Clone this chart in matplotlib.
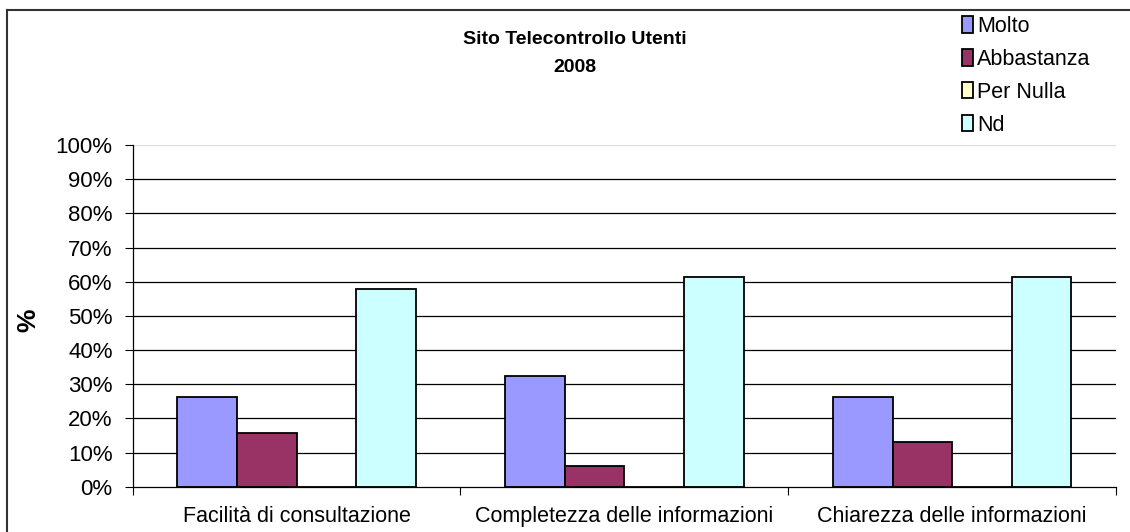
import matplotlib
matplotlib.use("Agg")
import matplotlib.pyplot as plt
import numpy as np
from matplotlib.patches import Patch
from matplotlib.lines import Line2D

plt.rcParams['font.family'] = ['Liberation Sans', 'DejaVu Sans']

categories = ["Facilità di consultazione", "Completezza delle informazioni", "Chiarezza delle informazioni"]
series_names = ["Molto", "Abbastanza", "Per Nulla", "Nd"]
molto = [26.3, 32.3, 26.3]
abbastanza = [15.8, 6.1, 13.0]
per_nulla = [0.0, 0.0, 0.0]
nd = [57.9, 61.4, 61.4]
y_ticks = [0, 10, 20, 30, 40, 50, 60, 70, 80, 90, 100]
y_tick_labels = ["0%", "10%", "20%", "30%", "40%", "50%", "60%", "70%", "80%", "90%", "100%"]
title_lines = ["Sito Telecontrollo Utenti", "2008"]

colors = ["#9999FF", "#993366", "#FFFFCC", "#CCFFFF"]
values = [molto, abbastanza, per_nulla, nd]

W, H = 1130, 532
fig = plt.figure(figsize=(W / 100, H / 100), dpi=100)
fig.patch.set_facecolor("white")

# outer chart frame (left and top visible)
fig.add_artist(Line2D([7 / W, 7 / W], [0, 1 - 10 / H], transform=fig.transFigure, color="#333333", lw=1.5))
fig.add_artist(Line2D([7 / W, 1], [1 - 10 / H, 1 - 10 / H], transform=fig.transFigure, color="#333333", lw=1.5))

left, right = 132.7, 1116
top, bottom = 145, 486.7
ax = fig.add_axes([left / W, 1 - bottom / H, (right - left) / W, (bottom - top) / H])

x = np.arange(len(categories))
bw = 1 / 5.5
offsets = [-1.5, -0.5, 0.5, 1.5]
for vals, off, col, name in zip(values, offsets, colors, series_names):
    ax.bar(x + off * bw, vals, width=bw, color=col, edgecolor="black", linewidth=1.3, label=name, zorder=3)

ax.set_xlim(-0.5, len(categories) - 0.5)
ax.set_ylim(0, 100)

# gridlines
for t in y_ticks[1:]:
    ax.axhline(t, color="black" if t < 100 else "#dddddd", lw=0.9, zorder=1)

ax.set_yticks(y_ticks)
ax.set_yticklabels(y_tick_labels)
ax.tick_params(axis="y", direction="out", length=5.5, width=0.8, pad=9, labelsize=16)

ax.set_xticks(np.arange(len(categories) + 1) - 0.5)
ax.set_xticklabels([])
ax.set_xticks(x, minor=True)
ax.set_xticklabels(categories, minor=True)
ax.tick_params(axis="x", which="major", direction="out", length=5.5, width=0.8)
ax.tick_params(axis="x", which="minor", length=0, pad=14, labelsize=15.5)

for s in ["top", "right"]:
    ax.spines[s].set_visible(False)
ax.spines["left"].set_linewidth(0.9)
ax.spines["bottom"].set_linewidth(0.9)
ax.spines["left"].set_zorder(4)
ax.spines["bottom"].set_zorder(4)

ax.set_ylabel("%", fontsize=19, fontweight="bold", va="center")
ax.yaxis.set_label_coords((28 - left) / (right - left), (bottom - 320) / (bottom - top))

fig.text(575 / W, 1 - 39 / H, title_lines[0], ha="center", va="center", fontsize=14, fontweight="bold")
fig.text(575 / W, 1 - 67.5 / H, title_lines[1], ha="center", va="center", fontsize=14, fontweight="bold")

handles = [Patch(facecolor=c, edgecolor="black", linewidth=1.3) for c in colors]
fig.legend(handles, series_names, loc="upper left", bbox_to_anchor=(962 / W, 1 - 16 / H),
           frameon=False, fontsize=15.5, handlelength=0.5, handleheight=0.8, handletextpad=0.2,
           labelspacing=0.55, borderpad=0, borderaxespad=0)

fig.savefig("out.png", dpi=100)
